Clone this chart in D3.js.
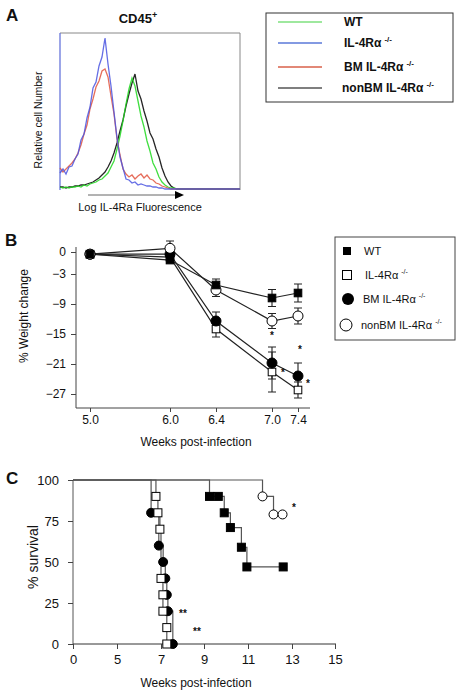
<!DOCTYPE html>
<html><head><meta charset="utf-8">
<script src="https://cdn.jsdelivr.net/npm/d3@7"></script>
<style>
body{margin:0;background:#fff;}
text{font-family:"Liberation Sans",Arial,Helvetica,sans-serif;fill:#111;}
</style></head><body>
<svg id="c" width="462" height="697"></svg>
<script>
// ---------- Panel A: histogram data (relative cell number per channel) ----------
const histChannels = [0,3,6,9,12,15,18,21,24,27,30,33,36,39,42,45,48,51,54,57,60,63,66,69,72,75,78,81,84,87,90,93,96,99,102,105,108,111,114,117,120,123,126,129,132,135,138,141,144,147,150,153,156,159,162,165,168,171,174,177,180];
const histKO =   [17,21,16,23,24,31,36,50,56,72,83,102,108,124,133,152,126,104,78,52,33,22,11,10,7,8,5,6,5,4,4,3,3,2,2,1,1,1,1,1,1,1,1,1,1,1,1,1,1,1,1,1,1,1,1,1,1,1,1,1,1];
const histBM =   [22,18,21,24,27,31,37,45,56,65,81,91,103,109,119,121,113,94,76,51,35,21,16,13,15,11,14,16,12,15,11,10,7,6,4,3,2,1,1,1,1,1,1,1,1,1,1,1,1,1,1,1,1,1,1,1,1,1,1,1,1];
const histWT =   [3,2,3,2,3,3,4,3,5,4,6,7,8,10,11,14,17,23,29,41,54,69,86,101,112,104,89,74,63,49,39,27,21,13,8,5,3,2,2,1,1,1,1,1,1,1,1,1,1,1,1,1,1,1,1,1,1,1,1,1,1];
const histNonBM =[3,3,2,3,3,4,4,5,5,6,7,8,10,12,15,18,23,29,37,47,59,70,84,96,107,116,99,91,79,69,57,51,41,33,22,14,8,4,2,1,1,1,1,1,1,1,1,1,1,1,1,1,1,1,1,1,1,1,1,1,1];
const legendA = ["WT","IL-4R\u03b1","BM IL-4R\u03b1","nonBM IL-4R\u03b1"];

// ---------- Panel B: % weight change ----------
const weeksB = [5.0, 6.0, 6.4, 7.0, 7.4];
const weekLabelsB = ["5.0","6.0","6.4","7.0","7.4"];
const yTicksB = [0,-3,-9,-15,-21,-27];
const wtMean    = [-0.3, -1.1, -5.2, -7.8, -6.8];
const wtErr     = [0, 0.3, 1.2, 1.7, 1.8];
const koMean    = [-0.3, -0.7, -14.0, -22.6, -26.2];
const koErr     = [0, 0.5, 1.6, 4.0, 1.6];
const bmMean    = [-0.3, -0.3, -12.4, -20.8, -23.4];
const bmErr     = [0, 0.5, 1.8, 3.2, 2.6];
const nonbmMean = [-0.3, 0.5, -6.2, -12.4, -11.4];
const nonbmErr  = [0, 1.0, 1.3, 1.5, 1.6];
const legendB = ["WT","IL-4R\u03b1","BM IL-4R\u03b1","nonBM IL-4R\u03b1"];

// ---------- Panel C: survival ----------
const xTicksC = [0,5,7,9,11,13,15];
const yTicksC = [0,25,50,75,100];
const wtT = [9.25, 9.65, 9.92, 10.2, 10.7, 10.95, 12.6];
const wtS = [90, 90, 80, 71, 59, 47, 47];
const koT = [6.77, 6.86, 6.95, 7.0, 7.09, 7.09, 7.27, 7.27];
const koS = [90, 80, 70, 40, 30, 20, 10, 0];
const bmT = [6.55, 6.9, 7.1, 7.2, 7.27, 7.32, 7.55];
const bmS = [80, 60, 50, 40, 30, 20, 0];
const nbT = [11.66, 12.16, 12.57];
const nbS = [90, 79, 79];

const svg = d3.select("#c");

// ===== Panel A =====
const xA = d3.scaleLinear().domain([0,180]).range([60,240]);
const yA = d3.scaleLinear().domain([0,157]).range([190,33]);
svg.append("text").attr("x",6).attr("y",21).attr("font-size",17).attr("font-weight","bold").text("A");
const t45 = svg.append("text").attr("x",138).attr("y",23).attr("text-anchor","middle").attr("font-size",13).attr("font-weight","bold");
t45.append("tspan").text("CD45");
t45.append("tspan").attr("dy",-5).attr("font-size",9).text("+");
// frame
svg.append("path").attr("d",`M${xA(0)},${yA(157)}H${xA(180)}V${yA(0)}`).attr("fill","none").attr("stroke","#888").attr("stroke-width",1);
svg.append("line").attr("x1",xA(0)).attr("x2",xA(0)).attr("y1",yA(157)).attr("y2",yA(0)).attr("stroke","#5a6ad8").attr("stroke-width",1.2);
const lineA = d3.line().x((d,i)=>xA(histChannels[i])).y(d=>yA(d));
[[histNonBM,"#000"],[histWT,"#1fd81f"],[histBM,"#e2553f"],[histKO,"#4a55e0"]].forEach(([arr,col])=>{
  svg.append("path").attr("d",lineA(arr)).attr("fill","none").attr("stroke",col).attr("stroke-width",1.3).attr("stroke-opacity",0.85);
});
svg.append("text").attr("transform","translate(42,120) rotate(-90)").attr("text-anchor","middle").attr("font-size",10.5).text("Relative cell Number");
// arrow
svg.append("line").attr("x1",88).attr("x2",176).attr("y1",195).attr("y2",195).attr("stroke","#666").attr("stroke-width",1);
svg.append("path").attr("d","M175,191L184,195L175,199Z").attr("fill","#000");
svg.append("text").attr("x",140).attr("y",211).attr("text-anchor","middle").attr("font-size",11).text("Log IL-4Ra Fluorescence");

// legend A
svg.append("rect").attr("x",266).attr("y",13).attr("width",187).attr("height",89).attr("fill","none").attr("stroke","#333").attr("stroke-width",1);
const legAcol = ["#7ee07e","#5a78d8","#d8604a","#555"];
const legAy = [22,43,67,88];
legendA.forEach((s,i)=>{
  svg.append("line").attr("x1",278).attr("x2",322).attr("y1",legAy[i]).attr("y2",legAy[i]).attr("stroke",legAcol[i]).attr("stroke-width",1.6);
  const t = svg.append("text").attr("x", i===3?342:344).attr("y",legAy[i]+4).attr("font-size",12).attr("font-weight","bold");
  t.append("tspan").text(s);
  if(i>0) t.append("tspan").attr("dx",3).attr("dy",-5).attr("font-size",8).text("-/-");
});

// ===== Panel B =====
const xB = d3.scaleLinear().domain(weeksB).range([90,170,216,272,298]);
const yB = d3.scaleLinear().domain(yTicksB).range([252,274,304,334,364,394]);
svg.append("text").attr("x",5).attr("y",246).attr("font-size",17).attr("font-weight","bold").text("B");
const axL = svg.append("g").attr("transform","translate(76,0)").call(d3.axisLeft(yB).tickValues(yTicksB).tickSize(5).tickFormat(d=>d===0?"0":d3.format("d")(d)));
axL.select(".domain").attr("d","M-0,247V408").attr("stroke","#444");
const axB = svg.append("g").attr("transform","translate(0,408)").call(d3.axisBottom(xB).tickValues(weeksB).tickSize(4).tickFormat((d,i)=>weekLabelsB[i]));
axB.select(".domain").attr("d","M76,0H310").attr("stroke","#444");
[axL,axB].forEach(a=>{a.selectAll("text").attr("font-size",12).attr("font-family","Liberation Sans, Arial, sans-serif").attr("fill","#222");a.selectAll(".tick line").attr("stroke","#444");});
axL.selectAll("text").attr("x",-10);
axB.selectAll("text").attr("y",7);
svg.append("text").attr("transform","translate(28,316) rotate(-90)").attr("text-anchor","middle").attr("font-size",12).text("% Weight change");
svg.append("text").attr("x",196).attr("y",446).attr("text-anchor","middle").attr("font-size",12).text("Weeks post-infection");

const seriesB = [
  {m:koMean,e:koErr,type:"sq",fill:"#fff"},
  {m:bmMean,e:bmErr,type:"ci",fill:"#000"},
  {m:nonbmMean,e:nonbmErr,type:"ci",fill:"#fff"},
  {m:wtMean,e:wtErr,type:"sq",fill:"#000"}
];
const lineB = d3.line().x((d,i)=>xB(weeksB[i])).y(d=>yB(d));
seriesB.forEach(s=>svg.append("path").attr("d",lineB(s.m)).attr("fill","none").attr("stroke","#222").attr("stroke-width",1.2));
seriesB.forEach(s=>{
  s.m.forEach((v,i)=>{
    if(s.e[i]<=0) return;
    const x=xB(weeksB[i]), y1=yB(v+s.e[i]), y2=yB(v-s.e[i]);
    svg.append("path").attr("d",`M${x},${y1}V${y2}M${x-4},${y1}H${x+4}M${x-4},${y2}H${x+4}`).attr("stroke","#222").attr("stroke-width",1.1).attr("fill","none");
  });
});
seriesB.forEach(s=>{
  s.m.forEach((v,i)=>{
    const x=xB(weeksB[i]), y=yB(v);
    if(s.type==="sq") svg.append("rect").attr("x",x-3.8).attr("y",y-3.8).attr("width",7.6).attr("height",7.6).attr("fill",s.fill).attr("stroke","#000").attr("stroke-width",1);
    else svg.append("circle").attr("cx",x).attr("cy",y).attr("r",5).attr("fill",s.fill).attr("stroke","#000").attr("stroke-width",1);
  });
});
// asterisks
[[272,339],[300,353],[283,376],[308,387]].forEach(([x,y])=>svg.append("text").attr("x",x).attr("y",y).attr("text-anchor","middle").attr("font-size",10).attr("font-weight","bold").text("*"));

// legend B
svg.append("rect").attr("x",335).attr("y",237).attr("width",120).attr("height",103).attr("fill","none").attr("stroke","#444").attr("stroke-width",1);
const legBy = [251,275,299,325];
svg.append("rect").attr("x",343).attr("y",legBy[0]-4).attr("width",8).attr("height",8).attr("fill","#000");
svg.append("rect").attr("x",342.5).attr("y",legBy[1]-4.5).attr("width",9).attr("height",9).attr("fill","#fff").attr("stroke","#000");
svg.append("circle").attr("cx",348).attr("cy",legBy[2]).attr("r",6).attr("fill","#000");
svg.append("circle").attr("cx",346).attr("cy",legBy[3]).attr("r",6).attr("fill","#fff").attr("stroke","#000");
const legBx=[364,365,363,361];
legendB.forEach((s,i)=>{
  const t = svg.append("text").attr("x",legBx[i]).attr("y",legBy[i]+4).attr("font-size",11);
  t.append("tspan").text(s);
  if(i>0) t.append("tspan").attr("dx",3).attr("dy",-5).attr("font-size",7).text("-/-");
});

// ===== Panel C =====
const xC = d3.scaleLinear().domain(xTicksC).range([73,117,161,204,248,292,335]);
const yC = d3.scaleLinear().domain([0,100]).range([644,480]);
svg.append("text").attr("x",6).attr("y",484).attr("font-size",17).attr("font-weight","bold").text("C");
const axCL = svg.append("g").attr("transform","translate(73,0)").call(d3.axisLeft(yC).tickValues(yTicksC).tickSize(5));
axCL.select(".domain").attr("d","M0,480V644").attr("stroke","#555");
const axCB = svg.append("g").attr("transform","translate(0,644)").call(d3.axisBottom(xC).tickValues(xTicksC).tickSize(5));
axCB.select(".domain").attr("d","M73,0H336").attr("stroke","#333");
[axCL,axCB].forEach(a=>{a.selectAll("text").attr("font-size",13).attr("font-family","Liberation Sans, Arial, sans-serif").attr("fill","#222");a.selectAll(".tick line").attr("stroke","#444");});
axCL.selectAll("text").attr("x",-14);
axCB.selectAll("text").attr("y",11);
svg.append("text").attr("transform","translate(38,557) rotate(-90)").attr("text-anchor","middle").attr("font-size",14).text("% survival");
svg.append("text").attr("x",196).attr("y",687).attr("text-anchor","middle").attr("font-size",12).text("Weeks post-infection");

const stepLine = d3.line().x(d=>xC(d[0])).y(d=>yC(d[1])).curve(d3.curveStepAfter);
const km = (T,S)=>[[0,100]].concat(T.map((t,i)=>[t,S[i]]));
const seriesC = [
  {T:bmT,S:bmS,type:"ci",fill:"#000"},
  {T:koT,S:koS,type:"sq",fill:"#fff"},
  {T:wtT,S:wtS,type:"sq",fill:"#000"},
  {T:nbT,S:nbS,type:"ci",fill:"#fff"}
];
seriesC.forEach(s=>svg.append("path").attr("d",stepLine(km(s.T,s.S))).attr("fill","none").attr("stroke","#555").attr("stroke-width",1.2));
seriesC.forEach(s=>{
  s.T.forEach((t,i)=>{
    const x=xC(t), y=yC(s.S[i]);
    if(s.type==="sq") svg.append("rect").attr("x",x-4).attr("y",y-4).attr("width",8).attr("height",8).attr("fill",s.fill).attr("stroke","#000").attr("stroke-width",1);
    else svg.append("circle").attr("cx",x).attr("cy",y).attr("r",4.5).attr("fill",s.fill).attr("stroke","#000").attr("stroke-width",1);
  });
});
[[183,617,"**"],[197,635,"**"],[294,511,"*"]].forEach(([x,y,s])=>svg.append("text").attr("x",x).attr("y",y).attr("text-anchor","middle").attr("font-size",10).attr("font-weight","bold").text(s));
</script>
</body></html>
